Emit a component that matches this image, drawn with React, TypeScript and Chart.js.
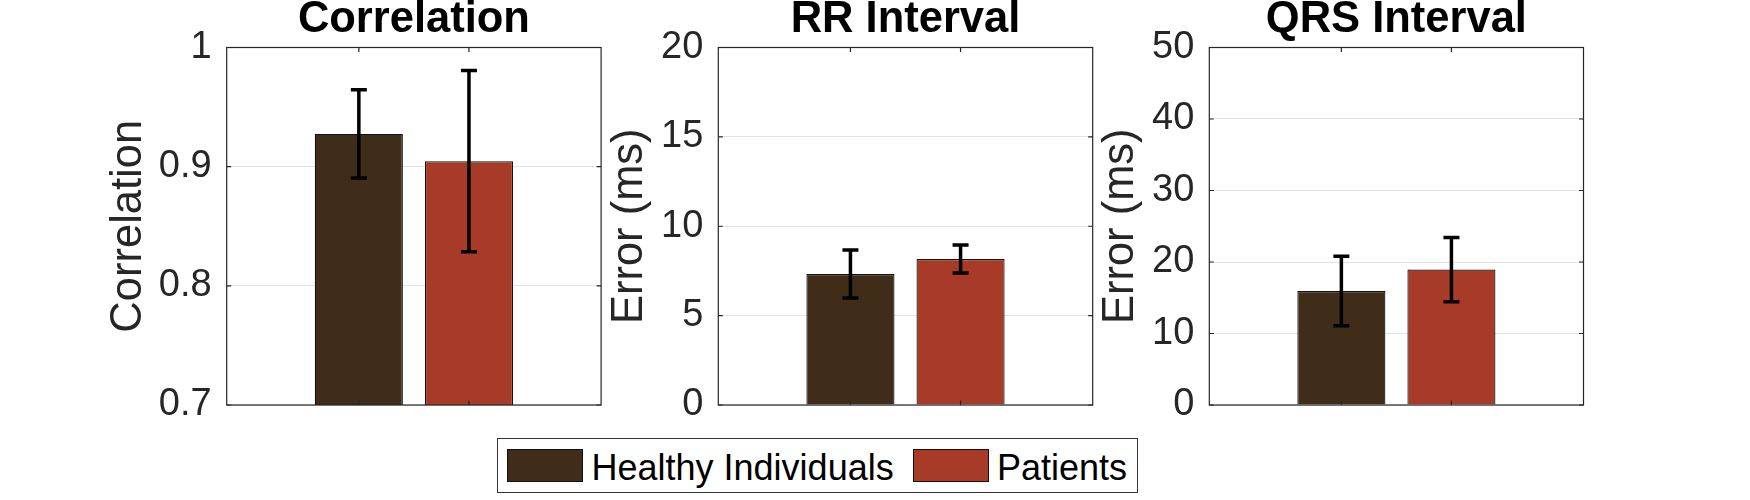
import React, { useEffect, useRef } from 'react';
import { Chart, registerables } from 'chart.js';

Chart.register(...registerables);

// ---------- data ----------
const groups = ['Healthy Individuals', 'Patients'];
const groupColors = ['#3f2d1a', '#a83b27'];
const xPositions = [1, 2];

const corrMeans = [0.9275, 0.9046];
const corrErrs = [0.037, 0.076];
const corrTicks = [0.7, 0.8, 0.9, 1];
const corrTickLabels = ['0.7', '0.8', '0.9', '1'];

const rrMeans = [7.33, 8.17];
const rrErrs = [1.34, 0.78];
const rrTicks = [0, 5, 10, 15, 20];
const rrTickLabels = ['0', '5', '10', '15', '20'];

const qrsMeans = [15.95, 18.94];
const qrsErrs = [4.85, 4.5];
const qrsTicks = [0, 10, 20, 30, 40, 50];
const qrsTickLabels = ['0', '10', '20', '30', '40', '50'];

const panelTitles = ['Correlation', 'RR Interval', 'QRS Interval'];
const panelYLabels = ['Correlation', 'Error (ms)', 'Error (ms)'];

// ---------- layout / style ----------
const FONT = '"Liberation Sans", Arial, Helvetica, sans-serif';
const W = 1750;
const H = 500;
const AREA_TOP = 47.5;
const AREA_BOTTOM = 405;
const YW = 130;
const XH = 30;
const TITLE_SIZE = 43.5;
const TITLE_LH = 0.9;

const panels = [
  { title: panelTitles[0], yLabel: panelYLabels[0], means: corrMeans, errs: corrErrs, ticks: corrTicks, labels: corrTickLabels, left: 226.7, right: 601.1, labelPad: 6.2 },
  { title: panelTitles[1], yLabel: panelYLabels[1], means: rrMeans, errs: rrErrs, ticks: rrTicks, labels: rrTickLabels, left: 718.3, right: 1092.7, labelPad: 15.2 },
  { title: panelTitles[2], yLabel: panelYLabels[2], means: qrsMeans, errs: qrsErrs, ticks: qrsTicks, labels: qrsTickLabels, left: 1209.3, right: 1583.5, labelPad: 15.2 },
];

function makeErrorBarPlugin(means: number[], errs: number[]) {
  return {
    id: 'errorBars',
    afterDatasetsDraw(chart: any) {
      const ctx = chart.ctx;
      const ys = chart.scales.y;
      ctx.save();
      ctx.strokeStyle = '#000';
      ctx.lineWidth = 3.5;
      ctx.lineCap = 'butt';
      chart.data.datasets.forEach((_ds: any, i: number) => {
        const meta = chart.getDatasetMeta(i);
        const el = meta.data[0];
        if (!el) return;
        const x = el.x;
        const yt = ys.getPixelForValue(means[i] + errs[i]);
        const yb = ys.getPixelForValue(means[i] - errs[i]);
        ctx.beginPath();
        ctx.moveTo(x, yt);
        ctx.lineTo(x, yb);
        ctx.moveTo(x - 8, yt);
        ctx.lineTo(x + 8, yt);
        ctx.moveTo(x - 8, yb);
        ctx.lineTo(x + 8, yb);
        ctx.stroke();
      });
      ctx.restore();
    },
  };
}

const boxPlugin = {
  id: 'matlabBox',
  afterDraw(chart: any) {
    const { ctx, chartArea } = chart;
    const { left, right, top, bottom } = chartArea;
    ctx.save();
    ctx.strokeStyle = '#262626';
    ctx.lineWidth = 1.2;
    ctx.strokeRect(left, top, right - left, bottom - top);
    const tl = 4.5;
    ctx.beginPath();
    chart.scales.y.ticks.forEach((t: any) => {
      const y = chart.scales.y.getPixelForValue(t.value);
      ctx.moveTo(left, y);
      ctx.lineTo(left + tl, y);
      ctx.moveTo(right, y);
      ctx.lineTo(right - tl, y);
    });
    chart.scales.x.ticks.forEach((t: any) => {
      const x = chart.scales.x.getPixelForValue(t.value);
      ctx.moveTo(x, top);
      ctx.lineTo(x, top + tl);
      ctx.moveTo(x, bottom);
      ctx.lineTo(x, bottom - tl);
    });
    ctx.stroke();
    ctx.restore();
  },
};

function Panel({ p }: { p: any }) {
  const ref = useRef<HTMLCanvasElement | null>(null);
  useEffect(() => {
    if (!ref.current) return;
    const chart = new Chart(ref.current, {
      type: 'bar',
      data: {
        datasets: groups.map((g, i) => ({
          label: g,
          data: [{ x: xPositions[i], y: p.means[i] }],
          backgroundColor: groupColors[i],
          borderColor: '#111',
          borderWidth: 1.2,
          grouped: false,
          barPercentage: 0.8,
          categoryPercentage: 1,
        })),
      } as any,
      options: {
        responsive: false,
        maintainAspectRatio: false,
        animation: false,
        devicePixelRatio: 1,
        layout: {
          padding: {
            left: p.left - YW,
            right: W - p.right,
            top: 0,
            bottom: H - AREA_BOTTOM - XH,
          },
        },
        plugins: {
          legend: { display: false },
          tooltip: { enabled: false },
          title: {
            display: true,
            text: p.title,
            fullSize: false,
            color: '#000',
            font: { family: FONT, size: TITLE_SIZE, weight: 'bold', lineHeight: TITLE_LH },
            padding: { top: 0, bottom: AREA_TOP - TITLE_SIZE * TITLE_LH },
          },
        },
        scales: {
          x: {
            type: 'linear',
            min: -0.2,
            max: 3.2,
            offset: false,
            ticks: { display: false },
            grid: { display: false },
            border: { display: false },
            afterBuildTicks: (s: any) => {
              s.ticks = xPositions.map((v) => ({ value: v }));
            },
            afterFit: (s: any) => {
              s.height = XH;
            },
          },
          y: {
            type: 'linear',
            min: p.ticks[0],
            max: p.ticks[p.ticks.length - 1],
            afterBuildTicks: (s: any) => {
              s.ticks = p.ticks.map((v: number) => ({ value: v }));
            },
            ticks: {
              color: '#262626',
              font: { family: FONT, size: 38 },
              padding: 15,
              callback: (_v: any, i: number) => p.labels[i],
            },
            grid: { color: '#e3e3e3', drawTicks: false, lineWidth: 1 },
            border: { display: false },
            title: {
              display: true,
              text: p.yLabel,
              color: '#262626',
              font: { family: FONT, size: 43.5 },
              padding: { top: p.labelPad, bottom: 0 },
            },
            afterFit: (s: any) => {
              s.width = YW;
            },
          },
        },
      } as any,
      plugins: [makeErrorBarPlugin(p.means, p.errs), boxPlugin],
    });
    return () => chart.destroy();
  }, []);
  return (
    <canvas
      ref={ref}
      width={W}
      height={H}
      style={{ position: 'absolute', left: 0, top: 0, width: W, height: H }}
    />
  );
}

function Legend() {
  const swatch = (left: number, color: string) => (
    <div
      style={{
        position: 'absolute',
        left,
        top: 448.5,
        width: 76,
        height: 33.5,
        boxSizing: 'border-box',
        border: '1px solid #111',
        background: color,
      }}
    />
  );
  const text = (left: number, t: string) => (
    <div
      style={{
        position: 'absolute',
        left,
        top: 449.5,
        fontFamily: FONT,
        fontSize: 36,
        lineHeight: '36px',
        color: '#000',
        whiteSpace: 'nowrap',
      }}
    >
      {t}
    </div>
  );
  return (
    <>
      <div
        style={{
          position: 'absolute',
          left: 497,
          top: 438,
          width: 641,
          height: 54.5,
          boxSizing: 'border-box',
          border: '1px solid #333',
          background: '#fff',
        }}
      />
      {swatch(506.7, groupColors[0])}
      {text(591.5, groups[0])}
      {swatch(913.3, groupColors[1])}
      {text(997, groups[1])}
    </>
  );
}

export default function App() {
  return (
    <div style={{ position: 'absolute', left: 0, top: 0, width: W, height: H, background: '#fff', overflow: 'hidden' }}>
      {panels.map((p, i) => (
        <Panel key={i} p={p} />
      ))}
      <Legend />
    </div>
  );
}
